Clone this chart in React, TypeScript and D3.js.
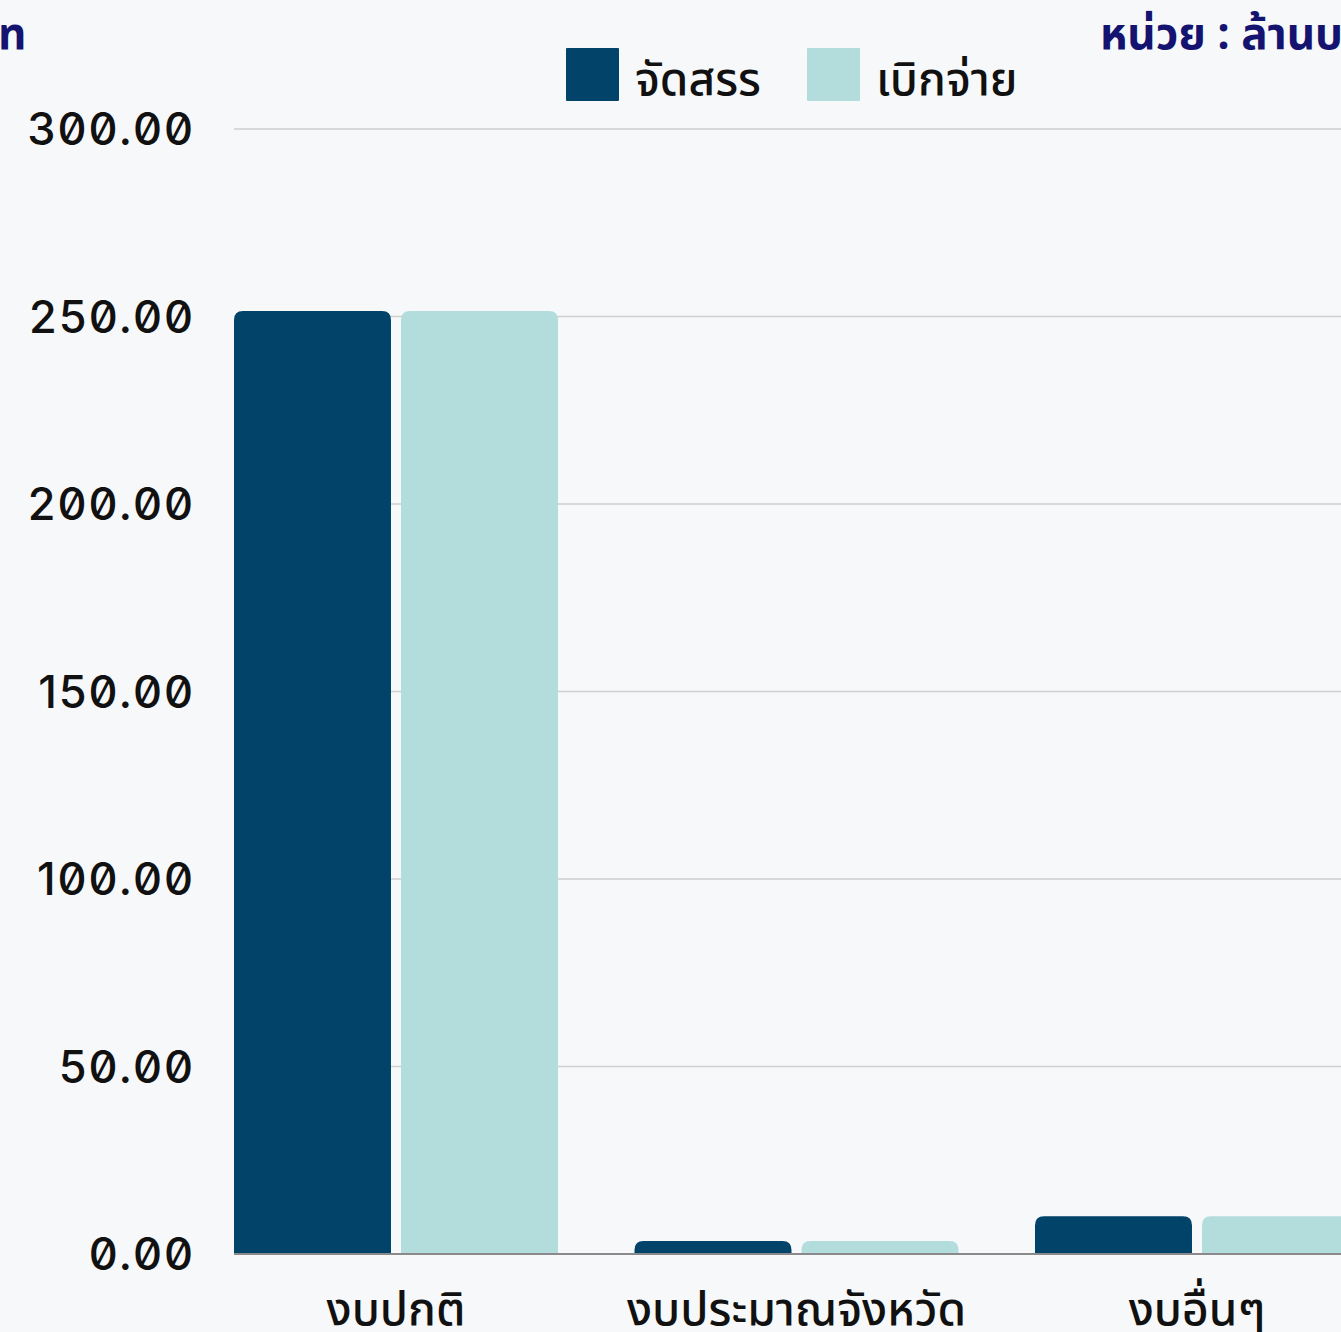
import React from "react";
import * as d3 from "d3";

const categories = ["งบปกติ", "งบประมาณจังหวัด", "งบอื่นๆ"];
const seriesNames = ["จัดสรร", "เบิกจ่าย"];
const allocated = [251.5, 3.5, 10.1];
const disbursed = [251.5, 3.5, 10.1];
const yTicks = [0, 50, 100, 150, 200, 250, 300];
const unitLabel = "หน่วย : ล้านบาท";
const leftTitle = "ท";

const W = 1341;
const H = 1332;
const colors = ["#02436a", "#b3dcdc"];
const FONT = "'Noto Sans Thai', 'Noto Sans', 'Inter', sans-serif";

function roundTopRect(x: number, y: number, w: number, h: number, r: number) {
  const rr = Math.min(r, h, w / 2);
  return `M${x},${y + h}V${y + rr}Q${x},${y} ${x + rr},${y}H${x + w - rr}Q${x + w},${y} ${x + w},${y + rr}V${y + h}Z`;
}

export default function App() {
  React.useEffect(() => {
    document.body.style.margin = "0";
  }, []);
  const y = d3.scaleLinear().domain([0, 300]).range([1254, 129]);
  const x0 = d3
    .scaleBand<string>()
    .domain(categories)
    .range([195.75, 1397.25])
    .paddingInner(0.191)
    .paddingOuter(0.0955);
  const x1 = d3
    .scaleBand<string>()
    .domain(seriesNames)
    .range([0, x0.bandwidth()])
    .paddingInner(0.06);
  const values = [allocated, disbursed];
  const plotLeft = 234;

  return (
    <div style={{ position: "absolute", left: 0, top: 0, width: W, height: H, overflow: "hidden" }}>
      <svg width={W} height={H} style={{ display: "block" }} fontFamily={FONT}>
        <rect x={0} y={0} width={W} height={H} fill="#f7f8f9" />
        {yTicks.map((t) => (
          <g key={t}>
            {t !== 0 && (
              <line x1={plotLeft} x2={W} y1={y(t)} y2={y(t)} stroke="#cfcfcf" strokeWidth={1.5} />
            )}
            <text
              x={195}
              y={y(t)}
              dy="0.36em"
              textAnchor="end"
              fontSize={45}
              fontWeight={500}
              fill="#111"
              letterSpacing={2}
              fontFamily="Inter, sans-serif"
              style={{ fontFeatureSettings: "'zero' 1" }}
            >
              {d3.format(".2f")(t)}
            </text>
          </g>
        ))}
        {categories.map((c, i) => (
          <g key={c} transform={`translate(${x0(c)},0)`}>
            {seriesNames.map((s, j) => {
              const v = values[j][i];
              const top = y(v);
              return (
                <path
                  key={s}
                  d={roundTopRect(x1(s)!, top, x1.bandwidth(), y(0) - top, 9)}
                  fill={colors[j]}
                />
              );
            })}
            <text
              x={x0.bandwidth() / 2}
              y={1325}
              textAnchor="middle"
              fontSize={46}
              fontWeight={500}
              fill="#111"
            >
              {c}
            </text>
          </g>
        ))}
        <line x1={plotLeft} x2={W} y1={y(0)} y2={y(0)} stroke="#8a8a8a" strokeWidth={2} />
        {seriesNames.map((s, j) => {
          const lx = [566, 807][j];
          return (
            <g key={s}>
              <rect x={lx} y={48} width={53} height={53} fill={colors[j]} rx={1} />
              <text x={lx + 69} y={95} fontSize={46} fontWeight={500} fill="#111">
                {s}
              </text>
            </g>
          );
        })}
        <text x={1100} y={49} fontSize={44} fontWeight={700} fill="#141470">
          {unitLabel}
        </text>
        <text x={-2} y={49} fontSize={44} fontWeight={700} fill="#141470">
          {leftTitle}
        </text>
      </svg>
    </div>
  );
}
